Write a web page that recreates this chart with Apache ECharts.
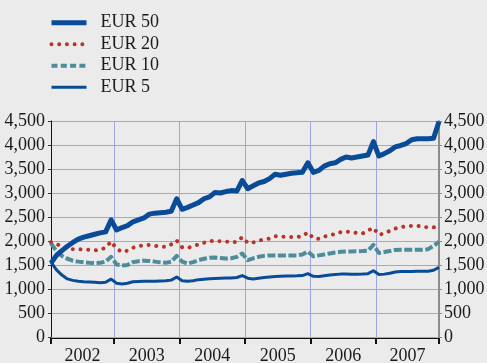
<!DOCTYPE html>
<html>
<head>
<meta charset="utf-8">
<script src="https://cdn.jsdelivr.net/npm/echarts@6/dist/echarts.min.js"></script>
<style>
  html, body { margin: 0; padding: 0; background: #ebebeb; }
  #chart { width: 487px; height: 363px; }
</style>
</head>
<body>
<div id="chart"></div>
<script>
// Banknotes in circulation by denomination, monthly from January 2002 (millions)
const years = ['2002', '2003', '2004', '2005', '2006', '2007'];
const seriesNames = ['EUR 50', 'EUR 20', 'EUR 10', 'EUR 5'];

const eur50 = [
  1540, 1700, 1800, 1890, 1970, 2040, 2080, 2110, 2140, 2170, 2190, 2440,
  2230, 2280, 2320, 2400, 2440, 2480, 2560, 2580, 2590, 2600, 2620, 2880,
  2660, 2700, 2750, 2800, 2880, 2920, 3010, 3000, 3030, 3050, 3040, 3260,
  3090, 3150, 3210, 3240, 3300, 3390, 3370, 3390, 3410, 3420, 3430, 3630,
  3430, 3470, 3560, 3610, 3630, 3700, 3750, 3730, 3750, 3770, 3790, 4070,
  3770, 3820, 3880, 3960, 3990, 4030, 4110, 4130, 4130, 4130, 4140, 4490
];
const eur20 = [
  1975, 1940, 1880, 1840, 1830, 1828, 1822, 1818, 1805, 1820, 1860, 1990,
  1840, 1770, 1800, 1860, 1895, 1905, 1920, 1900, 1885, 1875, 1930, 2010,
  1870, 1855, 1890, 1930, 1965, 1995, 2005, 1995, 1990, 1975, 1980, 2080,
  1960, 1970, 2010, 2030, 2050, 2100, 2095, 2085, 2083, 2083, 2100, 2180,
  2060, 2045, 2090, 2125, 2140, 2185, 2195, 2185, 2166, 2155, 2220, 2275,
  2130, 2160, 2210, 2260, 2290, 2305, 2315, 2320, 2295, 2285, 2285, 2280
];
const eur10 = [
  1950, 1790, 1690, 1630, 1590, 1570, 1555, 1545, 1540, 1545, 1570, 1670,
  1510, 1490, 1500, 1560, 1580, 1590, 1585, 1570, 1555, 1545, 1570, 1690,
  1570, 1530, 1560, 1600, 1630, 1650, 1655, 1645, 1635, 1640, 1670, 1740,
  1600, 1640, 1670, 1690, 1700, 1700, 1700, 1700, 1700, 1700, 1720, 1780,
  1680, 1700, 1720, 1740, 1760, 1775, 1780, 1783, 1785, 1790, 1800, 1920,
  1750, 1770, 1790, 1815, 1818, 1820, 1820, 1820, 1820, 1830, 1900, 1980
];
const eur5 = [
  1560, 1400, 1290, 1210, 1180, 1160, 1150, 1145, 1140, 1130, 1140, 1205,
  1120, 1105, 1120, 1150, 1155, 1160, 1160, 1160, 1165, 1170, 1185, 1250,
  1170, 1160, 1170, 1195, 1205, 1215, 1220, 1225, 1228, 1230, 1240, 1280,
  1225, 1210, 1225, 1240, 1250, 1260, 1265, 1270, 1273, 1275, 1280, 1320,
  1265, 1262, 1275, 1290, 1300, 1310, 1310, 1305, 1308, 1312, 1320, 1380,
  1300, 1310, 1330, 1355, 1365, 1365, 1365, 1368, 1368, 1370, 1390, 1450
];

const lastMonth = eur50.length - 1;
// Year boundaries fall between December and January
const yearBounds = [0];
years.forEach((y, k) => { if (k > 0) yearBounds.push(12 * k - 0.5); });
yearBounds.push(lastMonth);
const yearMids = years.map((y, k) => (yearBounds[k] + yearBounds[k + 1]) / 2);

const toPoints = arr => arr.map((v, i) => [i, v]);
const serif = 'Liberation Serif, Times New Roman, serif';
const BLUE = '#0a4b98';
const RED = '#b8332b';
const TEAL = '#4e8b9b';
const GRID = '#9ea6de';

const styles = {
  'EUR 50': { color: BLUE, width: 5, type: 'solid', cap: 'butt' },
  'EUR 20': { color: RED, width: 4, type: [0.01, 7.7], cap: 'round' },
  'EUR 10': { color: TEAL, width: 4, type: [8, 2.5], cap: 'butt' },
  'EUR 5':  { color: BLUE, width: 3, type: 'solid', cap: 'butt' }
};

const fmt = v => v.toLocaleString('en-US');

const chart = echarts.init(document.getElementById('chart'), null, { renderer: 'canvas' });
chart.setOption({
  backgroundColor: '#ebebeb',
  animation: false,
  textStyle: { fontFamily: serif },
  legend: {
    orient: 'vertical',
    left: 44,
    top: 7,
    itemWidth: 35,
    itemHeight: 14,
    itemGap: 0,
    itemStyle: { color: 'rgba(0,0,0,0)', borderWidth: 0 },
    textStyle: { fontFamily: serif, fontSize: 18, color: '#1a1a1a', lineHeight: 21.5, padding: [0, 0, 0, 9] },
    data: seriesNames.map(n => ({
      name: n,
      lineStyle: Object.assign({}, styles[n], n === 'EUR 10' ? { type: [6, 3.3] } : {})
    }))
  },
  grid: { left: 51, right: 48, top: 121, bottom: 26, outerBoundsMode: 'none', containLabel: false },
  xAxis: {
    type: 'value',
    min: 0,
    max: lastMonth,
    offset: 1,
    axisLine: { show: true, onZero: false, lineStyle: { color: '#111', width: 1 } },
    axisTick: { show: true, inside: false, length: 6, customValues: yearBounds, lineStyle: { color: '#111', width: 2 } },
    axisLabel: {
      customValues: yearMids,
      formatter: v => years[yearMids.indexOf(v)] || '',
      fontFamily: serif, fontSize: 18, color: '#1a1a1a', margin: 9
    },
    splitLine: { show: true, lineStyle: { color: GRID, width: 1 } }
  },
  yAxis: [
    {
      type: 'value', min: 0, max: 4500, interval: 500, position: 'left',
      axisLine: { show: true, lineStyle: { color: '#111', width: 1 } },
      axisTick: { show: true, length: 3, lineStyle: { color: '#333' } },
      axisLabel: { formatter: fmt, fontFamily: serif, fontSize: 18, color: '#1a1a1a', margin: 6 },
      splitLine: { show: true, lineStyle: { color: GRID, width: 1 } }
    },
    {
      type: 'value', min: 0, max: 4500, interval: 500, position: 'right',
      axisLine: { show: true, lineStyle: { color: '#8c8c8c', width: 2 } },
      axisTick: { show: true, length: 3, lineStyle: { color: '#8c8c8c' } },
      axisLabel: { formatter: fmt, fontFamily: serif, fontSize: 18, color: '#1a1a1a', margin: 5 },
      splitLine: { show: false }
    }
  ],
  series: [
    { name: 'EUR 50', data: toPoints(eur50), z: 5 },
    { name: 'EUR 20', data: toPoints(eur20), z: 3 },
    { name: 'EUR 10', data: toPoints(eur10), z: 2 },
    { name: 'EUR 5',  data: toPoints(eur5),  z: 4 }
  ].map(s => Object.assign({
    type: 'line',
    symbol: 'none',
    showSymbol: false,
    lineStyle: Object.assign({ join: 'round' }, styles[s.name]),
    itemStyle: { color: styles[s.name].color }
  }, s))
});
</script>
</body>
</html>
